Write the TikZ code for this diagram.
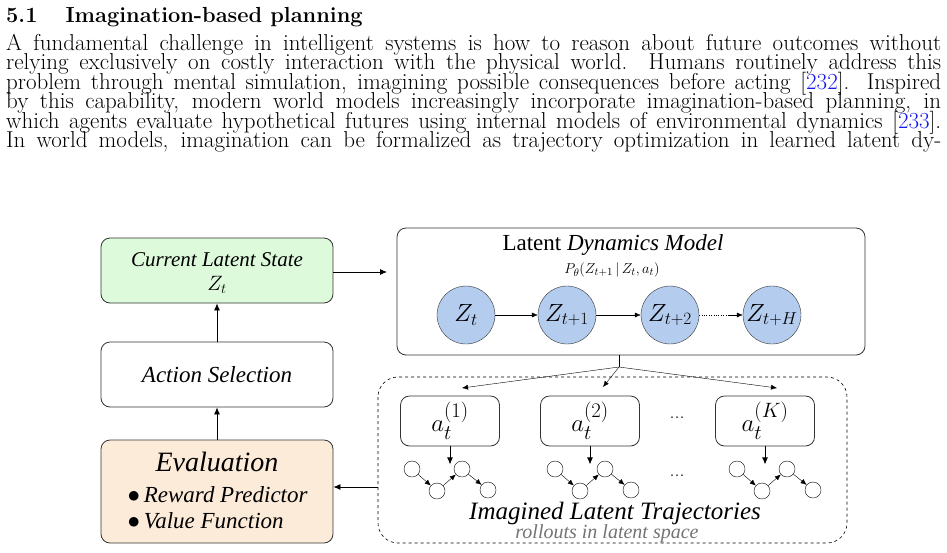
\documentclass[tikz,border=0pt]{standalone}
\usepackage{fontspec}
\usepackage{amsmath}
\newfontfamily\dgfont{Liberation Serif}
\usetikzlibrary{arrows.meta}
\definecolor{stategreen}{HTML}{DDFADB}
\definecolor{evalpeach}{HTML}{FDEBD9}
\definecolor{zblue}{HTML}{B4CCEE}
\definecolor{citeblue}{HTML}{1A1AEE}
\newcommand{\pline}[1]{\makebox[935pt][s]{#1}}
\newcommand{\cit}[1]{[{\color{citeblue}#1}]}
\begin{document}
\begin{tikzpicture}[x=1pt,y=-1pt,
  box/.style={draw=black!80,rounded corners=9pt,thick},
  ptext/.style={anchor=base west,inner sep=0pt,font=\fontsize{23}{24}\selectfont},
  zc/.style={circle,draw=black!80,fill=zblue,minimum size=58pt,inner sep=0pt,font=\fontsize{23}{25}\selectfont},
  sc/.style={circle,draw,minimum size=16pt,inner sep=0pt},
  arr/.style={-{Latex[length=7pt,width=6pt]},thick},
  sarr/.style={-{Latex[length=6pt,width=5pt]}},
  dtext/.style={font=\dgfont\itshape\fontsize{23}{25}\selectfont}]
\useasboundingbox (0,0) rectangle (947,552);
% heading and text
\node[anchor=base west,inner sep=0pt,font=\fontsize{21.8}{24}\selectfont\bfseries] (h) at (6,22) {5.1\hspace{28pt}Imagination-based planning};
\node[ptext] (l1) at (6,50) {\pline{A fundamental challenge in intelligent systems is how to reason about future outcomes without}};
\node[ptext] (l2) at (6,69.5) {\pline{relying exclusively on costly interaction with the physical world.\ \ Humans routinely address this}};
\node[ptext] (l3) at (6,89) {\pline{problem through mental simulation, imagining possible consequences before acting \cit{232}. Inspired}};
\node[ptext] (l4) at (6,108.5) {\pline{by this capability, modern world models increasingly incorporate imagination-based planning, in}};
\node[ptext] (l5) at (6,128) {\pline{which agents evaluate hypothetical futures using internal models of environmental dynamics \cit{233}.}};
\node[ptext] (l6) at (6,147.5) {\pline{In world models, imagination can be formalized as trajectory optimization in learned latent dy-}};
% left column
\node[box,fill=stategreen,minimum width=232pt,minimum height=65pt] (cur) at (217,270.5) {};
\node[dtext,font=\dgfont\itshape\fontsize{21}{23}\selectfont] (curt) at (217,260) {Current Latent State};
\node[font=\fontsize{21}{23}\selectfont] (curz) at (217,285) {$Z_t$};
\node[box,minimum width=232pt,minimum height=65pt,dtext] (act) at (217,374.5) {Action Selection};
\node[box,fill=evalpeach,minimum width=232pt,minimum height=103pt] (eval) at (217,491.5) {};
\node[font=\dgfont\itshape\fontsize{28}{30}\selectfont] (evt) at (217,462) {Evaluation};
\node[dtext,anchor=west] (rew) at (124,495) {$\bullet$\,Reward Predictor};
\node[dtext,anchor=west] (val) at (124,521) {$\bullet$\,Value Function};
\draw[arr] (act) -- (cur);
\draw[arr] (eval) -- (act);
% latent dynamics model
\node[box,minimum width=468pt,minimum height=127pt] (ldm) at (631,291.5) {};
\node[font=\fontsize{23}{25}\selectfont\dgfont] (ldmt) at (613,245) {Latent \textit{Dynamics Model}};
\node[font=\fontsize{15}{16}\selectfont] (pt) at (612,270) {$P_\theta(Z_{t+1}\,|\,Z_t,a_t)$};
\coordinate (cin) at (387,272);
\draw[arr] (cur.east |- cin) -- (cin);
\node[zc] (z0) at (466,315) {$Z_t$};
\node[zc] (z1) at (567,315) {$Z_{t+1}$};
\node[zc] (z2) at (670,315) {$Z_{t+2}$};
\node[zc] (z3) at (772,315) {$Z_{t+H}$};
\draw[sarr] (z0) -- (z1);
\draw[sarr] (z1) -- (z2);
\draw[dotted] (z2.east) -- ++(30,0) coordinate (zd);
\draw[sarr] (zd) -- (z3);
% imagined trajectories
\draw[dashed,semithick,rounded corners=20pt] (378,377) rectangle (847,543);
\coordinate (split) at (619,367);
\draw (ldm.south -| split) -- (split);
\foreach \n/\x/\k in {1/450/1,2/590/2,3/765/K}{
  \node[box,minimum width=99pt,minimum height=50pt,font=\fontsize{28}{30}\selectfont] (a\n) at (\x,421) {$a_t^{(\k)}$};
  \draw[arr] (a\n.south) -- ++(0,18);
}
\coordinate (t1) at (462,388);
\coordinate (t2) at (603,387);
\coordinate (t3) at (777,388);
\foreach \n in {1,2,3}{
  \draw[sarr] (split) -- (t\n);
}
\foreach \n/\x in {1/412,2/555,3/737}{
  \node[sc] (c\n a) at (\x,469) {};
  \node[sc] (c\n b) at (\x+25,491) {};
  \node[sc] (c\n c) at (\x+50,469) {};
  \node[sc] (c\n d) at (\x+76,490) {};
  \draw[sarr] (c\n a) -- (c\n b);
  \draw[sarr] (c\n b) -- (c\n c);
  \draw[sarr] (c\n c) -- (c\n d);
}
\node[font=\fontsize{20}{22}\selectfont] (dots1) at (677,418) {...};
\node[font=\fontsize{20}{22}\selectfont] (dots2) at (677,476) {...};
\node[font=\dgfont\itshape\fontsize{25}{27}\selectfont] (imt) at (615,513) {Imagined Latent Trajectories};
\node[font=\dgfont\itshape\fontsize{20}{21}\selectfont,text=black!55] (ro) at (607,534) {rollouts in latent space};
\coordinate (din) at (378,487);
\draw[arr] (din) -- (eval.east |- din);
\end{tikzpicture}
\end{document}
